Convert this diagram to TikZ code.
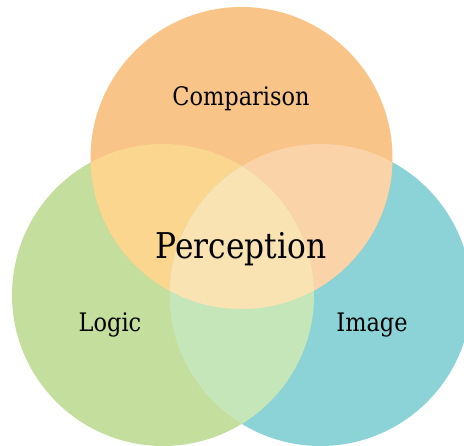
\documentclass[tikz,border=0pt]{standalone}
\usepackage{fontspec}
\setmainfont[FakeStretch=0.88]{DejaVu Serif}
\usepackage{tikz}
\usetikzlibrary{positioning}
\definecolor{compcol}{HTML}{F9C488}
\definecolor{logiccol}{HTML}{C4DE9D}
\definecolor{imagecol}{HTML}{8BD3D7}
\definecolor{complogic}{HTML}{FAD68F}
\definecolor{compimage}{HTML}{FAD3A8}
\definecolor{logicimage}{HTML}{C5E6B9}
\definecolor{allthree}{HTML}{FAE3B3}
\newcommand{\rad}{151pt}
\tikzstyle{setname} = [anchor=base, inner sep=0pt, font=\fontsize{25.5}{30}\selectfont]
\tikzstyle{centername} = [anchor=base, inner sep=0pt, font=\fontsize{35.5}{42}\selectfont]

\begin{document}
\begin{tikzpicture}[x=1pt, y=-1pt]
	\useasboundingbox (0,0) rectangle (464,446);
	\coordinate (ctop) at (241.5,158);
	\coordinate (cleft) at (163,295);
	\coordinate (cright) at (320.5,295);
	% the three sets
	\fill[imagecol] (cright) circle[radius=\rad];
	\fill[logiccol] (cleft) circle[radius=\rad];
	\fill[compcol] (ctop) circle[radius=\rad];
	% pairwise overlaps
	\begin{scope}
		\clip (ctop) circle[radius=\rad];
		\fill[complogic] (cleft) circle[radius=\rad];
	\end{scope}
	\begin{scope}
		\clip (ctop) circle[radius=\rad];
		\fill[compimage] (cright) circle[radius=\rad];
	\end{scope}
	\begin{scope}
		\clip (cleft) circle[radius=\rad];
		\fill[logicimage] (cright) circle[radius=\rad];
	\end{scope}
	% middle
	\begin{scope}
		\clip (ctop) circle[radius=\rad];
		\clip (cleft) circle[radius=\rad];
		\fill[allthree] (cright) circle[radius=\rad];
	\end{scope}
	\node[setname] (comparison) at (241,106) {Comparison};
	\node[centername] (perception) at (241,259) {Perception};
	\node[setname] (logic) at (110,332) {Logic};
	\node[setname] (image) at (372,332) {Image};
\end{tikzpicture}
\end{document}
